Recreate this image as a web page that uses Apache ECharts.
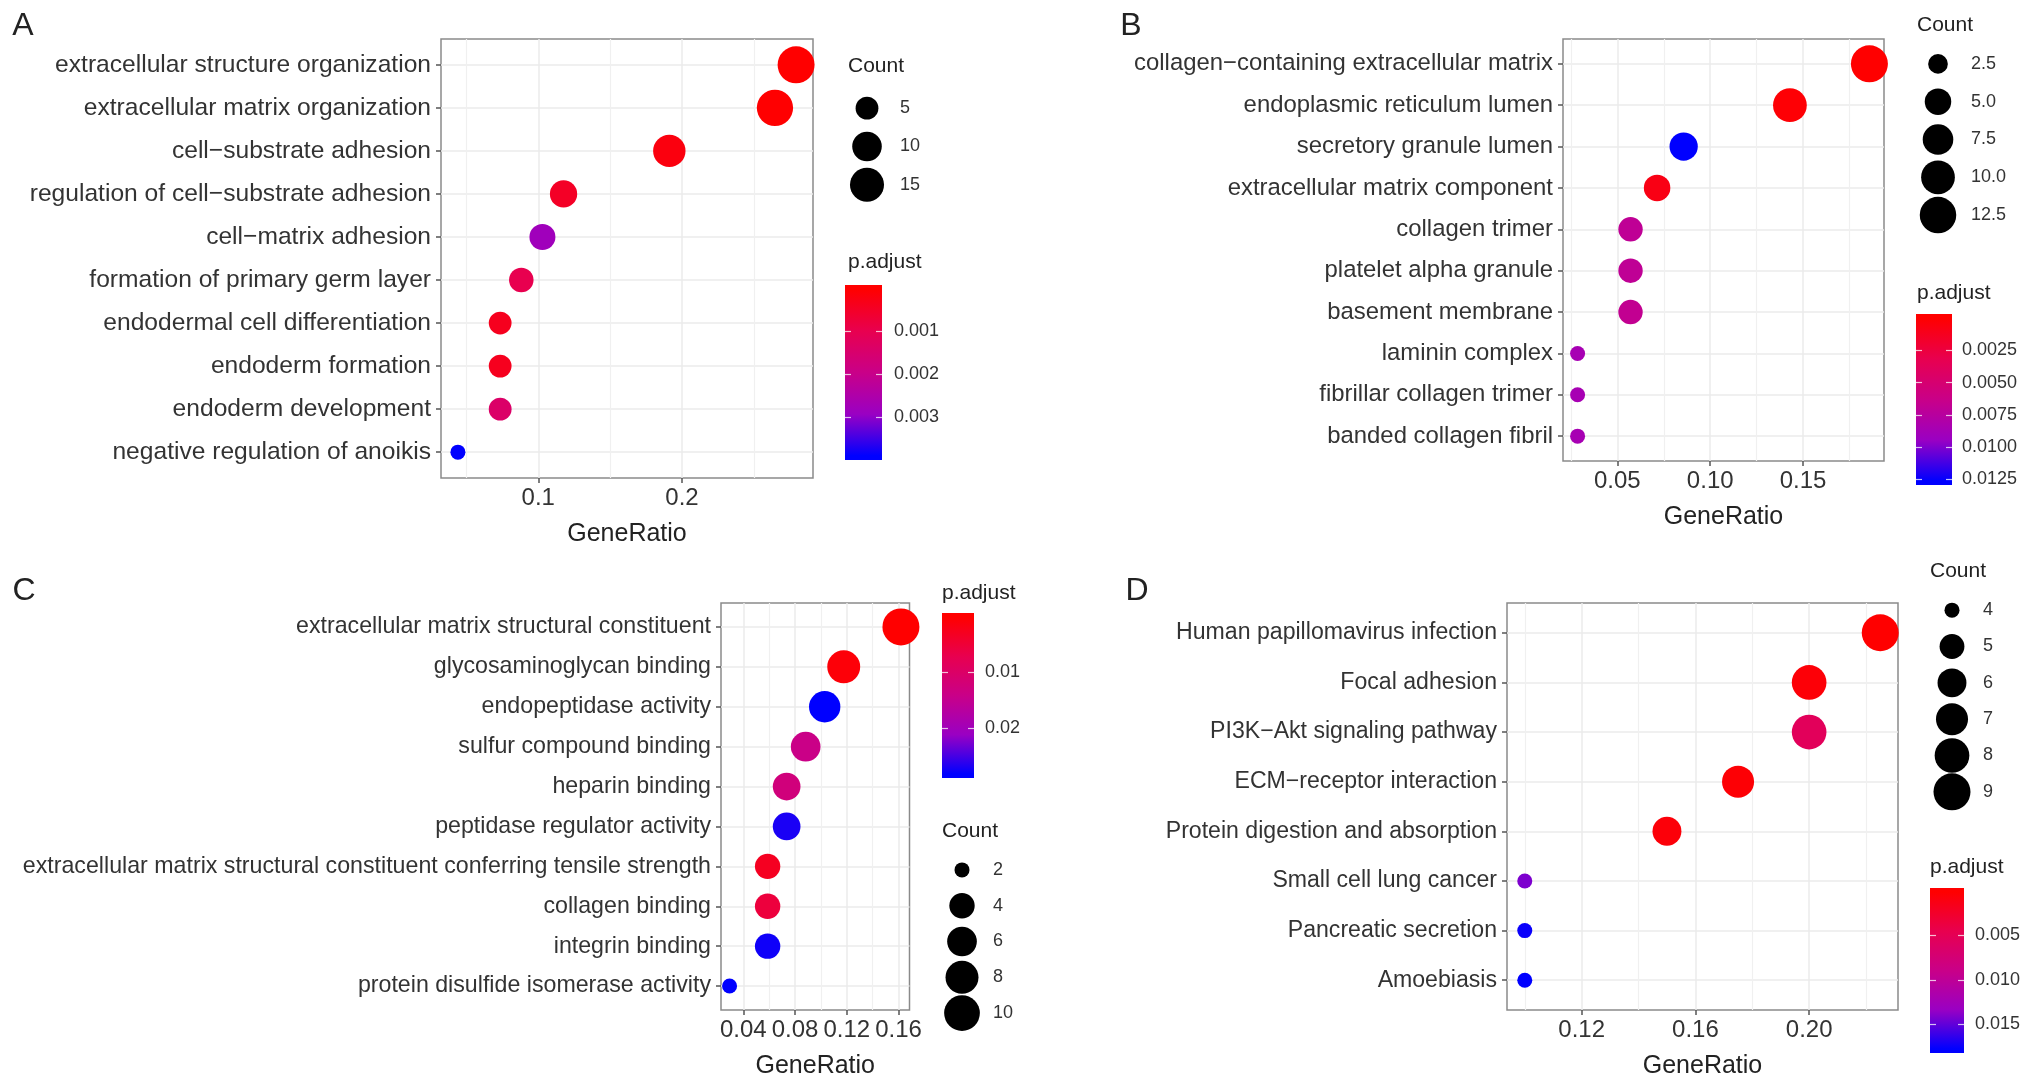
<!DOCTYPE html>
<html>
<head>
<meta charset="utf-8">
<title>GO / KEGG dot plots</title>
<script src="https://cdn.jsdelivr.net/npm/echarts@6/dist/echarts.min.js"></script>
<style>
  html, body { margin: 0; padding: 0; background: #fff; }
  #main { width: 2031px; height: 1087px; }
</style>
</head>
<body>
<div id="main"></div>
<script>
/** 数据 A：biological process **/
var aTerms = ['extracellular structure organization', 'extracellular matrix organization', 'cell\u2212substrate adhesion',
  'regulation of cell\u2212substrate adhesion', 'cell\u2212matrix adhesion', 'formation of primary germ layer',
  'endodermal cell differentiation', 'endoderm formation', 'endoderm development', 'negative regulation of anoikis'];
var aRatio = [0.2794, 0.2647, 0.1912, 0.1176, 0.1029, 0.0882, 0.0735, 0.0735, 0.0735, 0.0441];
var aCount = [19, 18, 13, 8, 7, 6, 5, 5, 5, 3];
var aPadj = [0.00003, 0.00004, 0.0002, 0.0005, 0.0028, 0.0010, 0.0004, 0.0004, 0.0014, 0.0039];
var aXTicks = [0.1, 0.2];
var aXLabels = ['0.1', '0.2'];
var aXMinor = [0.05, 0.15, 0.25];
var aSizeBreaks = [5, 10, 15];
var aSizeLabels = ['5', '10', '15'];
var aPTicks = [0.001, 0.002, 0.003];
var aPLabels = ['0.001', '0.002', '0.003'];

/** 数据 B：cellular component **/
var bTerms = ['collagen\u2212containing extracellular matrix', 'endoplasmic reticulum lumen', 'secretory granule lumen',
  'extracellular matrix component', 'collagen trimer', 'platelet alpha granule', 'basement membrane',
  'laminin complex', 'fibrillar collagen trimer', 'banded collagen fibril'];
var bRatio = [0.1857, 0.1429, 0.0857, 0.0714, 0.0571, 0.0571, 0.0571, 0.0286, 0.0286, 0.0286];
var bCount = [13, 10, 6, 5, 4, 4, 4, 2, 2, 2];
var bPadj = [0.00002, 0.0002, 0.0126, 0.0008, 0.0070, 0.0070, 0.0068, 0.0086, 0.0086, 0.0086];
var bXTicks = [0.05, 0.10, 0.15];
var bXLabels = ['0.05', '0.10', '0.15'];
var bXMinor = [0.025, 0.075, 0.125, 0.175];
var bSizeBreaks = [2.5, 5, 7.5, 10, 12.5];
var bSizeLabels = ['2.5', '5.0', '7.5', '10.0', '12.5'];
var bPTicks = [0.0025, 0.005, 0.0075, 0.01, 0.0125];
var bPLabels = ['0.0025', '0.0050', '0.0075', '0.0100', '0.0125'];

/** 数据 C：molecular function **/
var cTerms = ['extracellular matrix structural constituent', 'glycosaminoglycan binding', 'endopeptidase activity',
  'sulfur compound binding', 'heparin binding', 'peptidase regulator activity',
  'extracellular matrix structural constituent conferring tensile strength', 'collagen binding',
  'integrin binding', 'protein disulfide isomerase activity'];
var cRatio = [0.1618, 0.1176, 0.1029, 0.0882, 0.0735, 0.0735, 0.0588, 0.0588, 0.0588, 0.0294];
var cCount = [11, 8, 7, 6, 5, 5, 4, 4, 4, 2];
var cPadj = [0.00005, 0.0008, 0.0282, 0.0140, 0.0125, 0.0270, 0.0030, 0.0055, 0.0275, 0.0282];
var cXTicks = [0.04, 0.08, 0.12, 0.16];
var cXLabels = ['0.04', '0.08', '0.12', '0.16'];
var cXMinor = [0.06, 0.10, 0.14];
var cSizeBreaks = [2, 4, 6, 8, 10];
var cSizeLabels = ['2', '4', '6', '8', '10'];
var cPTicks = [0.01, 0.02];
var cPLabels = ['0.01', '0.02'];

/** 数据 D：KEGG **/
var dTerms = ['Human papillomavirus infection', 'Focal adhesion', 'PI3K\u2212Akt signaling pathway',
  'ECM\u2212receptor interaction', 'Protein digestion and absorption', 'Small cell lung cancer',
  'Pancreatic secretion', 'Amoebiasis'];
var dRatio = [0.225, 0.200, 0.200, 0.175, 0.150, 0.100, 0.100, 0.100];
var dCount = [9, 8, 8, 7, 6, 4, 4, 4];
var dPadj = [0.0001, 0.0005, 0.0054, 0.0004, 0.0006, 0.0142, 0.0175, 0.0178];
var dXTicks = [0.12, 0.16, 0.20];
var dXLabels = ['0.12', '0.16', '0.20'];
var dXMinor = [0.10, 0.14, 0.18, 0.22];
var dSizeBreaks = [4, 5, 6, 7, 8, 9];
var dSizeLabels = ['4', '5', '6', '7', '8', '9'];
var dPTicks = [0.005, 0.010, 0.015];
var dPLabels = ['0.005', '0.010', '0.015'];

/** 样式 **/
var FONT = 'Liberation Sans, Arial, sans-serif';
var TEXT = '#333333';
var RAMP = ['#FF0000', '#E8004F', '#C90088', '#9A00C3', '#0000FF'];
var DMIN = 15, DMAX = 37;   // 点直径范围(px)
var NBIN = 20;              // colorbar 分箱, 用于端点内缩

var panels = [
  { letter: 'A', letterPos: [23, 26], terms: aTerms, ratio: aRatio, count: aCount, padj: aPadj,
    xTicks: aXTicks, xLabels: aXLabels, xMinor: aXMinor, sizeBreaks: aSizeBreaks, sizeLabels: aSizeLabels,
    pTicks: aPTicks, pLabels: aPLabels, labelSize: 24.6,
    box: { left: 441, top: 39, width: 372, height: 439 },
    countTitle: [848, 66], countBox: { left: 847, top: 89, width: 40, height: 115 }, countGap: 13,
    padjTitle: [848, 262], bar: { left: 845, top: 285, width: 37, height: 175 }, barGap: 12 },
  { letter: 'B', letterPos: [1131, 26], terms: bTerms, ratio: bRatio, count: bCount, padj: bPadj,
    xTicks: bXTicks, xLabels: bXLabels, xMinor: bXMinor, sizeBreaks: bSizeBreaks, sizeLabels: bSizeLabels,
    pTicks: bPTicks, pLabels: bPLabels, labelSize: 23.9,
    box: { left: 1563, top: 39, width: 321, height: 422 },
    countTitle: [1917, 25], countBox: { left: 1918, top: 45, width: 40, height: 189 }, countGap: 13,
    padjTitle: [1917, 293], bar: { left: 1916, top: 314, width: 36, height: 171 }, barGap: 10 },
  { letter: 'C', letterPos: [24, 591], terms: cTerms, ratio: cRatio, count: cCount, padj: cPadj,
    xTicks: cXTicks, xLabels: cXLabels, xMinor: cXMinor, sizeBreaks: cSizeBreaks, sizeLabels: cSizeLabels,
    pTicks: cPTicks, pLabels: cPLabels, labelSize: 23.2,
    box: { left: 721, top: 603, width: 188.5, height: 407 },
    countTitle: [942, 831], countBox: { left: 942, top: 852, width: 40, height: 179 }, countGap: 11,
    padjTitle: [942, 593], bar: { left: 942, top: 613, width: 32, height: 165 }, barGap: 11 },
  { letter: 'D', letterPos: [1137, 591], terms: dTerms, ratio: dRatio, count: dCount, padj: dPadj,
    xTicks: dXTicks, xLabels: dXLabels, xMinor: dXMinor, sizeBreaks: dSizeBreaks, sizeLabels: dSizeLabels,
    pTicks: dPTicks, pLabels: dPLabels, labelSize: 23.1,
    box: { left: 1507, top: 603, width: 391, height: 407 },
    countTitle: [1930, 571], countBox: { left: 1932, top: 592, width: 40, height: 218 }, countGap: 11,
    padjTitle: [1930, 867], bar: { left: 1930, top: 888, width: 34, height: 165 }, barGap: 11 }
];

function minOf(arr) { return Math.min.apply(null, arr); }
function maxOf(arr) { return Math.max.apply(null, arr); }
function lookup(values, labels, v) {
  for (var i = 0; i < values.length; i++) {
    if (Math.abs(values[i] - v) < 1e-9) return labels[i];
  }
  return '';
}
function sizeScale(cmin, cmax) {
  return function (c) {
    var t = cmax > cmin ? (c - cmin) / (cmax - cmin) : 1;
    t = Math.max(0, Math.min(1, t));
    return DMIN + (DMAX - DMIN) * Math.sqrt(t);
  };
}
function textEl(str, x, y, size, color, align) {
  return {
    type: 'text', x: x, y: y, silent: true,
    style: { text: str, fontFamily: FONT, fontSize: size, fill: color, align: align || 'left', verticalAlign: 'middle' }
  };
}

var grids = [], xAxes = [], yAxes = [], series = [], visualMaps = [], graphics = [];
var noLine = { show: false, onZero: false };

panels.forEach(function (p) {
  var n = p.terms.length;
  var lo = minOf(p.ratio), hi = maxOf(p.ratio), pad = (hi - lo) * 0.05;
  var size = sizeScale(minOf(p.count), maxOf(p.count));
  var pmin = minOf(p.padj), pmax = maxOf(p.padj);
  var rows = p.terms.map(function (t, i) { return i; });

  /** 主图 **/
  var gi = grids.length;
  grids.push({ left: p.box.left, top: p.box.top, width: p.box.width, height: p.box.height,
    show: true, backgroundColor: '#fff', borderColor: '#8a8a8a', borderWidth: 1.5 });
  // 次网格线(先画, 在主网格线之下)
  xAxes.push({
    type: 'value', gridIndex: gi, position: 'top', min: lo - pad, max: hi + pad,
    axisLine: noLine,
    axisTick: { show: false, customValues: p.xMinor },
    axisLabel: { show: false, customValues: p.xMinor },
    splitLine: { show: true, lineStyle: { color: '#F0F0F0', width: 1.2 } }
  });
  var xi = xAxes.length;
  xAxes.push({
    type: 'value', gridIndex: gi, position: 'bottom', min: lo - pad, max: hi + pad,
    name: 'GeneRatio', nameLocation: 'middle', nameGap: 44,
    nameTextStyle: { fontFamily: FONT, fontSize: 25, color: '#222' },
    axisLine: noLine,
    axisTick: { show: true, customValues: p.xTicks, length: 5, lineStyle: { color: '#555', width: 1.5 } },
    axisLabel: { customValues: p.xTicks, margin: 8, fontFamily: FONT, fontSize: 24, color: TEXT,
      formatter: function (v) { return lookup(p.xTicks, p.xLabels, v); } },
    splitLine: { show: true, lineStyle: { color: '#EBEBEB', width: 1.5 } }
  });
  var yi = yAxes.length;
  yAxes.push({
    type: 'value', gridIndex: gi, min: -0.6, max: n - 0.4, inverse: true,
    axisLine: noLine,
    axisTick: { show: true, customValues: rows, length: 5, lineStyle: { color: '#555', width: 1.5 } },
    axisLabel: { customValues: rows, margin: 10, fontFamily: FONT, fontSize: p.labelSize, color: TEXT,
      formatter: function (v) { return p.terms[Math.round(v)]; } },
    splitLine: { show: true, lineStyle: { color: '#EBEBEB', width: 1.5 } }
  });
  var si = series.length;
  series.push({
    type: 'scatter', xAxisIndex: xi, yAxisIndex: yi, clip: true, silent: true, z: 3,
    data: p.ratio.map(function (r, i) { return [r, i, p.padj[i], p.count[i]]; }),
    symbolSize: function (v) { return size(v[3]); },
    itemStyle: { opacity: 1 }
  });
  visualMaps.push({ type: 'continuous', show: false, seriesIndex: si, dimension: 2,
    min: pmin, max: pmax, inRange: { color: RAMP } });

  /** Count 图例 **/
  var cg = grids.length;
  grids.push({ left: p.countBox.left, top: p.countBox.top, width: p.countBox.width, height: p.countBox.height, show: false });
  var cx = xAxes.length;
  xAxes.push({ type: 'value', gridIndex: cg, min: 0, max: 1, show: false });
  var cy = yAxes.length;
  yAxes.push({
    type: 'category', gridIndex: cg, data: p.sizeLabels, inverse: true, position: 'right',
    axisLine: noLine, axisTick: { show: false }, splitLine: { show: false },
    axisLabel: { margin: p.countGap, fontFamily: FONT, fontSize: 18, color: TEXT, align: 'left' }
  });
  series.push({
    type: 'scatter', xAxisIndex: cx, yAxisIndex: cy, clip: false, silent: true,
    data: p.sizeBreaks.map(function (b, i) { return [0.5, i, b]; }),
    symbolSize: function (v) { return size(v[2]); },
    itemStyle: { color: '#000', opacity: 1 }
  });

  /** p.adjust 色条 **/
  var ext = (pmax - pmin) / (2 * (NBIN - 1));
  var e0 = 0.5 / NBIN;
  var stops = RAMP.map(function (c, k) {
    return { offset: e0 + (1 - 2 * e0) * k / (RAMP.length - 1), color: c };
  });
  var bg = grids.length;
  grids.push({ left: p.bar.left, top: p.bar.top, width: p.bar.width, height: p.bar.height,
    show: true, borderWidth: 0,
    backgroundColor: { type: 'linear', x: 0, y: 0, x2: 0, y2: 1, colorStops: stops } });
  xAxes.push({ type: 'value', gridIndex: bg, min: 0, max: 1, show: false });
  yAxes.push({
    type: 'value', gridIndex: bg, position: 'right', min: pmin - ext, max: pmax + ext, inverse: true,
    axisLine: noLine, splitLine: { show: false },
    axisTick: { show: true, inside: true, customValues: p.pTicks, length: 6, lineStyle: { color: 'rgba(255,255,255,0.75)', width: 1.2 } },
    axisLabel: { customValues: p.pTicks, margin: p.barGap, fontFamily: FONT, fontSize: 18, color: TEXT,
      formatter: function (v) { return lookup(p.pTicks, p.pLabels, v); } }
  });
  yAxes.push({
    type: 'value', gridIndex: bg, position: 'left', min: pmin - ext, max: pmax + ext, inverse: true,
    axisLine: noLine, splitLine: { show: false }, axisLabel: { show: false, customValues: p.pTicks },
    axisTick: { show: true, inside: true, customValues: p.pTicks, length: 6, lineStyle: { color: 'rgba(255,255,255,0.75)', width: 1.2 } }
  });

  /** 文字 **/
  graphics.push(textEl(p.letter, p.letterPos[0], p.letterPos[1], 32, '#222', 'center'));
  graphics.push(textEl('Count', p.countTitle[0], p.countTitle[1], 21, '#222'));
  graphics.push(textEl('p.adjust', p.padjTitle[0], p.padjTitle[1], 21, '#222'));
});

var chart = echarts.init(document.getElementById('main'), null, { renderer: 'canvas' });
chart.setOption({
  animation: false,
  backgroundColor: '#fff',
  textStyle: { fontFamily: FONT },
  grid: grids,
  xAxis: xAxes,
  yAxis: yAxes,
  visualMap: visualMaps,
  series: series,
  graphic: { elements: graphics }
});
</script>
</body>
</html>
